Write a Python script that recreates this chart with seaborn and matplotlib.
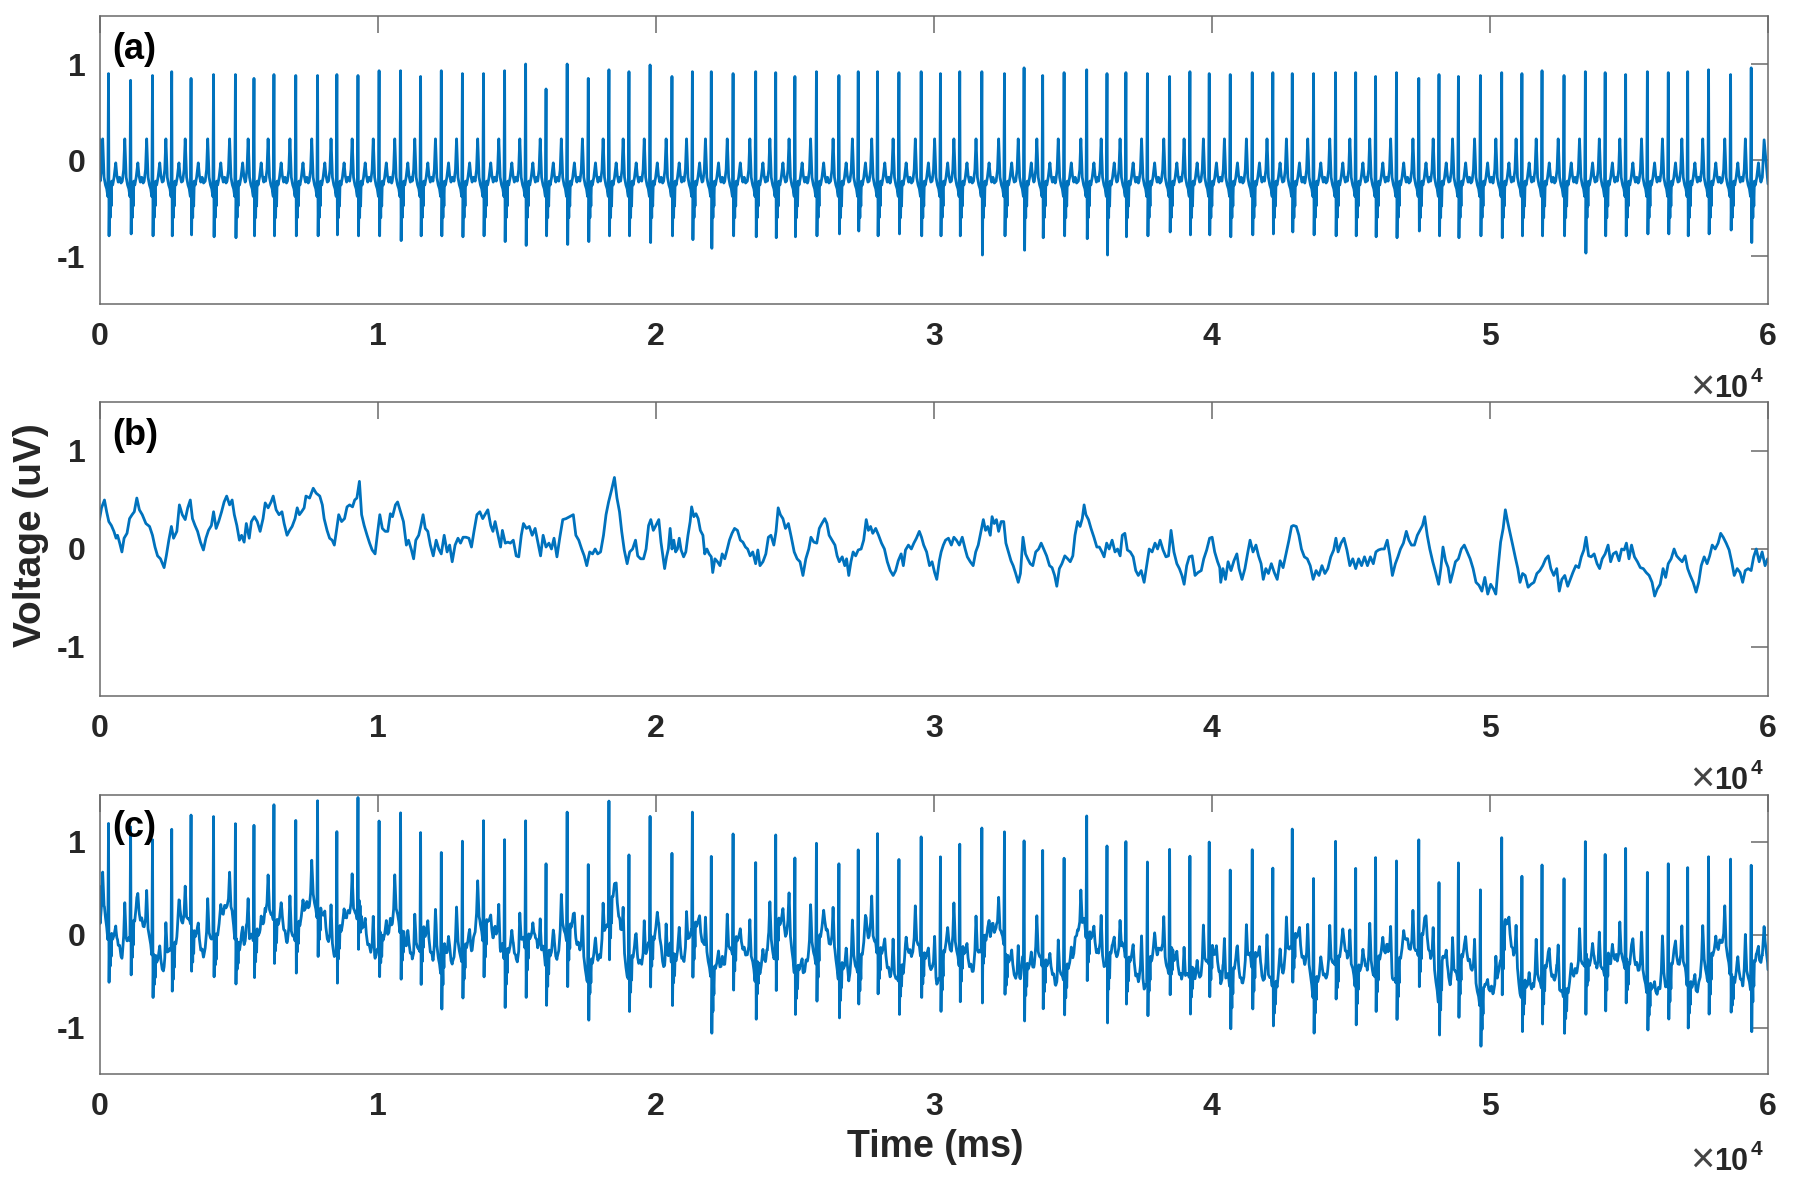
import numpy as np
import matplotlib
matplotlib.use("Agg")
import matplotlib.pyplot as plt
import seaborn as sns

# ---------------- data ----------------
# panel (a): R-peak times (ms), R-peak voltages, S-trough voltages
beat_t = [324, 1119, 1906, 2597, 3292, 4101, 4888, 5555, 6273, 7058,
          7842, 8536, 9295, 10054, 10827, 11547, 12291, 13050, 13809, 14568,
          15324, 16058, 16817, 17576, 18320, 19040, 19799,
          20586, 21320, 22000, 22784, 23597, 24317, 25007, 25781, 26590, 27284,
          27979, 28748, 29547, 30241, 30935, 31730, 32543, 33248, 33917, 34687,
          35500, 36230, 36910, 37683, 38482, 39212, 39906,
          40662, 41453, 42194, 42892, 43658, 44450, 45173, 45889, 46640, 47442,
          48169, 48867, 49658, 50424, 51151, 51874, 52665, 53432, 54144, 54881,
          55662, 56414, 57112, 57863, 58655, 59396]
r_amp = [0.90, 0.83, 0.88, 0.92, 0.85, 0.89, 0.89, 0.85, 0.89, 0.88,
         0.88, 0.89, 0.88, 0.93, 0.93, 0.87, 0.93, 0.90, 0.90, 0.93,
         1.00, 0.74, 1.00, 0.85, 0.94, 0.92, 0.99,
         0.87, 0.92, 0.92, 0.90, 0.92, 0.91, 0.87, 0.92, 0.88, 0.92,
         0.92, 0.91, 0.92, 0.90, 0.92, 0.92, 0.90, 0.96, 0.88, 0.91,
         0.94, 0.90, 0.91, 0.90, 0.87, 0.92, 0.90,
         0.89, 0.91, 0.91, 0.90, 0.90, 0.91, 0.91, 0.87, 0.91, 0.85,
         0.89, 0.87, 0.88, 0.91, 0.90, 0.93, 0.88, 0.92, 0.91, 0.89,
         0.92, 0.91, 0.92, 0.94, 0.89, 0.96]
s_amp = [-0.79, -0.77, -0.79, -0.79, -0.78, -0.80, -0.81, -0.79, -0.79, -0.79,
         -0.79, -0.78, -0.79, -0.79, -0.84, -0.79, -0.79, -0.80, -0.79, -0.85,
         -0.89, -0.79, -0.88, -0.85, -0.79, -0.79, -0.86,
         -0.79, -0.83, -0.92, -0.79, -0.80, -0.81, -0.80, -0.79, -0.77, -0.74,
         -0.79, -0.77, -0.79, -0.79, -0.79, -0.99, -0.79, -0.94, -0.81, -0.79,
         -0.82, -0.99, -0.80, -0.79, -0.75, -0.78, -0.78,
         -0.80, -0.78, -0.77, -0.75, -0.78, -0.79, -0.79, -0.80, -0.81, -0.74,
         -0.79, -0.81, -0.79, -0.81, -0.79, -0.79, -0.79, -0.97, -0.79, -0.79,
         -0.77, -0.77, -0.79, -0.77, -0.73, -0.86]
# typical beat shape around each R peak (offset ms, voltage)
pre_off = [-300, -250, -210, -160, -110, -65, -25]
pre_val = [-0.22, -0.10, 0.22, -0.18, -0.26, -0.30, -0.38]
s_off = 20
post_off = [40, 60, 75, 95, 115, 150, 200, 260, 300, 350, 400, 450]
post_val = [-0.30, -0.60, -0.28, -0.48, -0.22, -0.26, -0.18, -0.03, -0.16, -0.23, -0.18, -0.24]
a_head_t = [0]
a_head_v = [0.22]
a_tail_t = [59860, 60000]
a_tail_v = [0.21, -0.25]

# panel (b): noise trace, time (ms) and voltage
b_t_1 = [0, 73, 178, 257, 335, 427, 518, 597, 649, 727,
         806, 884, 989, 1081, 1172, 1251, 1342, 1434, 1538, 1669,
         1800, 1905, 1996, 2088, 2192, 2323, 2402, 2493, 2585, 2663,
         2781, 2873, 2977, 3082, 3173, 3265, 3343, 3435, 3527, 3631,
         3736, 3827, 3919, 4024, 4102, 4194, 4285, 4390, 4481, 4573,
         4678, 4769, 4848, 4939, 5031, 5109, 5201, 5279, 5384, 5462,
         5567, 5672, 5776, 5881, 5959, 6064, 6169, 6247, 6352, 6456,
         6561, 6640, 6744, 6836, 6927, 7032, 7110, 7189, 7267, 7359,
         7424, 7555, 7686, 7791, 7921, 8013, 8078, 8183, 8275, 8366,
         8445, 8523, 8602, 8706, 8811, 8902, 8994, 9099, 9177, 9256,
         9347, 9426, 9517, 9622, 9713, 9805, 9910, 9988, 10080, 10171,
         10276, 10367, 10459, 10537, 10642, 10720, 10825, 10930, 11035, 11113,
         11218, 11296, 11375, 11479, 11558, 11636, 11715, 11806, 11898, 12002,
         12107, 12199, 12290, 12395, 12500, 12591, 12683, 12787, 12892, 12983,
         13075, 13180, 13284, 13376, 13467, 13572, 13677, 13781, 13860, 13964,
         14069, 14148, 14226, 14331, 14422, 14488, 14592, 14684, 14775, 14880,
         14985, 15076, 15168, 15246, 15351, 15456, 15560, 15665, 15770, 15861,
         15953, 16057, 16162, 16253, 16345, 16450, 16554, 16659, 16777, 16907,
         17038, 17130, 17234, 17339, 17431, 17522, 17627, 17731, 17823, 17915,
         18019, 18124, 18215, 18307, 18412, 18517, 18608, 18700, 18778, 18870,
         18974, 19066, 19170, 19275, 19354, 19458, 19563, 19655, 19746, 19825,
         19916, 20008, 20112, 20191, 20322]
b_v_1 = [0.30, 0.42, 0.50, 0.38, 0.28, 0.24, 0.18, 0.11, 0.14, 0.06,
         -0.03, 0.11, 0.16, 0.31, 0.35, 0.38, 0.52, 0.40, 0.35, 0.26,
         0.23, 0.14, 0.02, -0.07, -0.10, -0.19, -0.07, 0.09, 0.23, 0.11,
         0.18, 0.45, 0.35, 0.30, 0.42, 0.50, 0.31, 0.24, 0.18, 0.07,
         -0.01, 0.11, 0.19, 0.24, 0.38, 0.21, 0.28, 0.38, 0.48, 0.54,
         0.45, 0.50, 0.35, 0.24, 0.09, 0.14, 0.07, 0.26, 0.11, 0.28,
         0.33, 0.28, 0.18, 0.31, 0.47, 0.42, 0.48, 0.54, 0.40, 0.35,
         0.38, 0.26, 0.14, 0.19, 0.23, 0.31, 0.42, 0.35, 0.38, 0.42,
         0.54, 0.52, 0.62, 0.57, 0.54, 0.45, 0.31, 0.19, 0.11, 0.09,
         0.04, 0.19, 0.35, 0.28, 0.31, 0.43, 0.45, 0.43, 0.50, 0.52,
         0.69, 0.35, 0.24, 0.14, 0.06, -0.01, -0.05, 0.14, 0.35, 0.21,
         0.18, 0.18, 0.36, 0.33, 0.45, 0.48, 0.38, 0.28, 0.04, 0.09,
         -0.01, -0.10, 0.09, 0.14, 0.24, 0.35, 0.21, 0.18, 0.04, -0.07,
         0.09, 0.00, -0.05, 0.14, -0.03, 0.04, -0.13, 0.04, 0.11, 0.06,
         0.12, 0.12, 0.11, 0.02, 0.18, 0.35, 0.38, 0.31, 0.35, 0.40,
         0.24, 0.18, 0.28, 0.14, 0.02, 0.19, 0.06, 0.07, 0.06, 0.09,
         -0.07, -0.08, 0.14, 0.26, 0.21, 0.23, 0.14, 0.21, 0.06, -0.07,
         0.14, 0.02, 0.06, 0.00, 0.11, -0.08, 0.12, 0.30, 0.31, 0.33,
         0.35, 0.14, 0.09, 0.00, -0.07, -0.17, -0.03, -0.05, 0.00, -0.05,
         -0.03, 0.14, 0.35, 0.48, 0.60, 0.73, 0.52, 0.38, 0.18, -0.01,
         -0.15, -0.03, 0.00, 0.09, -0.07, -0.10, -0.10, 0.00, 0.24, 0.30,
         0.19, 0.24, 0.30, 0.07, -0.20]
b_t_2 = [20391, 20456, 20521, 20587, 20652, 20718, 20783, 20848, 20914, 21005,
         21084, 21162, 21241, 21293, 21372, 21450, 21529, 21607, 21699, 21764,
         21843, 21921, 22000, 22052, 22130, 22222, 22313, 22392, 22483, 22575,
         22653, 22745, 22837, 22941, 23046, 23137, 23229, 23307, 23399, 23491,
         23595, 23674, 23752, 23857, 23962, 24053, 24145, 24249, 24328, 24406,
         24485, 24576, 24668, 24773, 24877, 24982, 25087, 25191, 25296, 25400,
         25505, 25584, 25688, 25793, 25884, 25976, 26081, 26159, 26238, 26342,
         26447, 26525, 26604, 26708, 26800, 26865, 26944, 27022, 27101, 27192,
         27284, 27388, 27480, 27572, 27650, 27729, 27807, 27912, 28016, 28121,
         28226, 28330, 28435, 28540, 28631, 28723, 28827, 28906, 28984, 29089,
         29194, 29285, 29377, 29481, 29560, 29638, 29743, 29848, 29939, 30031,
         30109, 30201, 30266, 30345, 30423, 30528, 30633, 30724, 30816, 30920,
         31025, 31130, 31208, 31313, 31417, 31509, 31600, 31705, 31783, 31862,
         31940, 32032, 32097, 32176, 32254, 32333, 32424, 32516, 32594, 32686,
         32777, 32856, 32947, 33039, 33117, 33209, 33300, 33379, 33470, 33562,
         33667, 33771, 33863, 33954, 34059, 34164, 34255, 34347, 34425, 34517,
         34608, 34713, 34817, 34909, 35001, 35079, 35171, 35262, 35341, 35407,
         35472, 35564, 35655, 35760, 35865, 35956, 36048, 36126, 36218, 36309,
         36414, 36518, 36610, 36702, 36780, 36872, 36963, 37068, 37172, 37264,
         37356, 37460, 37565, 37656, 37748, 37853, 37957, 38049, 38140, 38246,
         38350, 38441, 38533, 38637, 38742, 38834, 38925, 39004, 39096, 39188,
         39291, 39396, 39501, 39619, 39710, 39815, 39920, 40011, 40103, 40207,
         40285]
b_v_2 = [-0.08, 0.00, 0.21, 0.00, 0.09, -0.03, 0.00, 0.11, -0.01, -0.08,
         -0.03, 0.14, 0.28, 0.43, 0.33, 0.36, 0.31, 0.19, 0.14, -0.05,
         0.00, -0.05, -0.08, -0.24, -0.10, -0.13, -0.17, -0.05, -0.10, 0.00,
         0.09, 0.16, 0.21, 0.19, 0.09, 0.07, 0.02, 0.00, -0.07, -0.03,
         -0.15, -0.01, -0.17, -0.13, -0.05, 0.12, 0.14, 0.04, 0.18, 0.42,
         0.35, 0.31, 0.21, 0.26, 0.12, -0.03, -0.10, -0.13, -0.27, -0.10,
         0.00, 0.12, 0.07, 0.06, 0.21, 0.26, 0.31, 0.26, 0.14, 0.09,
         0.04, -0.07, -0.13, -0.08, -0.17, -0.10, -0.27, -0.13, -0.03, -0.07,
         -0.01, 0.00, 0.09, 0.30, 0.19, 0.23, 0.16, 0.21, 0.14, 0.06,
         0.00, -0.13, -0.22, -0.27, -0.22, -0.12, -0.05, -0.17, -0.01, 0.04,
         0.00, 0.06, 0.11, 0.18, 0.12, 0.04, -0.03, -0.17, -0.13, -0.24,
         -0.31, -0.12, -0.03, 0.04, 0.09, 0.11, 0.04, 0.12, 0.09, 0.04,
         0.12, 0.00, -0.08, -0.13, -0.17, -0.03, 0.04, 0.19, 0.30, 0.19,
         0.23, 0.14, 0.33, 0.26, 0.30, 0.18, 0.28, 0.28, 0.06, -0.03,
         -0.12, -0.17, -0.25, -0.34, -0.25, 0.12, -0.05, -0.10, -0.15, -0.17,
         -0.03, 0.00, 0.06, 0.00, -0.07, -0.17, -0.19, -0.27, -0.38, -0.20,
         -0.15, -0.07, -0.10, -0.13, -0.07, 0.14, 0.28, 0.23, 0.31, 0.45,
         0.35, 0.30, 0.21, 0.12, 0.02, 0.02, -0.03, -0.08, 0.06, 0.00,
         0.09, -0.03, 0.00, -0.07, 0.14, 0.16, -0.01, -0.03, -0.08, -0.22,
         -0.27, -0.22, -0.34, -0.17, 0.00, -0.03, 0.06, 0.00, 0.09, -0.01,
         -0.08, -0.07, 0.19, -0.03, -0.15, -0.20, -0.27, -0.36, -0.17, -0.08,
         -0.07, -0.27, -0.24, -0.22, -0.10, -0.01, 0.11, 0.12, -0.03, -0.13,
         -0.19]
b_t_3 = [40320, 40399, 40491, 40584, 40689, 40795, 40900, 40979, 41085, 41190,
         41283, 41375, 41481, 41586, 41679, 41771, 41850, 41942, 42035, 42140,
         42246, 42351, 42457, 42562, 42668, 42773, 42866, 42932, 43037, 43130,
         43222, 43327, 43433, 43538, 43644, 43749, 43855, 43960, 44066, 44171,
         44277, 44382, 44462, 44541, 44646, 44752, 44857, 44963, 45068, 45174,
         45279, 45385, 45490, 45596, 45701, 45807, 45899, 45992, 46097, 46202,
         46308, 46401, 46493, 46599, 46691, 46784, 46889, 46994, 47086, 47179,
         47284, 47390, 47482, 47575, 47654, 47746, 47838, 47944, 48049, 48155,
         48234, 48313, 48405, 48498, 48577, 48669, 48761, 48867, 48972, 49078,
         49183, 49289, 49395, 49500, 49606, 49711, 49817, 49922, 50028, 50133,
         50212, 50291, 50384, 50476, 50555, 50635, 50713, 50819, 50924, 51004,
         51083, 51175, 51268, 51373, 51478, 51584, 51689, 51795, 51900, 52006,
         52099, 52191, 52297, 52402, 52494, 52587, 52692, 52798, 52890, 52983,
         53088, 53194, 53286, 53378, 53457, 53550, 53642, 53748, 53853, 53945,
         54038, 54143, 54249, 54341, 54433, 54539, 54644, 54737, 54829, 54908,
         55001, 55093, 55198, 55304, 55409, 55515, 55620, 55726, 55831, 55924,
         56016, 56122, 56227, 56319, 56412, 56517, 56623, 56715, 56808, 56913,
         57019, 57111, 57203, 57309, 57414, 57507, 57599, 57705, 57810, 57902,
         57995, 58100, 58206, 58298, 58390, 58496, 58602, 58694, 58786, 58892,
         58997, 59089, 59182, 59287, 59393, 59485, 59578, 59683, 59789, 59894,
         59986, 60000]
b_v_3 = [-0.34, -0.20, -0.31, -0.13, -0.22, -0.12, -0.05, -0.20, -0.31, -0.20,
         -0.05, 0.09, -0.03, 0.04, -0.07, -0.15, -0.31, -0.20, -0.25, -0.15,
         -0.24, -0.31, -0.12, -0.19, -0.05, 0.09, 0.23, 0.24, 0.23, 0.14,
         0.00, -0.08, -0.10, -0.17, -0.31, -0.22, -0.27, -0.17, -0.25, -0.20,
         -0.08, -0.01, 0.11, -0.03, 0.06, 0.11, -0.01, -0.17, -0.10, -0.20,
         -0.10, -0.17, -0.08, -0.17, -0.08, -0.15, -0.03, -0.01, 0.00, 0.00,
         0.09, -0.07, -0.27, -0.15, -0.08, 0.00, 0.06, 0.18, 0.09, 0.04,
         0.04, 0.14, 0.19, 0.24, 0.33, 0.14, 0.00, -0.13, -0.24, -0.36,
         -0.20, 0.02, -0.12, -0.19, -0.34, -0.24, -0.13, -0.10, 0.00, 0.04,
         -0.03, -0.10, -0.20, -0.34, -0.37, -0.43, -0.29, -0.46, -0.36, -0.41,
         -0.46, -0.20, 0.07, 0.21, 0.40, 0.28, 0.18, 0.04, -0.10, -0.20,
         -0.34, -0.25, -0.27, -0.39, -0.36, -0.34, -0.25, -0.22, -0.17, -0.10,
         -0.07, -0.20, -0.27, -0.20, -0.43, -0.31, -0.27, -0.38, -0.31, -0.24,
         -0.17, -0.19, -0.08, -0.01, 0.12, -0.07, -0.08, -0.05, -0.15, -0.20,
         -0.10, -0.05, 0.04, -0.13, -0.05, -0.03, -0.12, 0.00, -0.01, 0.06,
         -0.10, 0.04, -0.08, -0.13, -0.19, -0.20, -0.24, -0.27, -0.34, -0.48,
         -0.41, -0.36, -0.20, -0.29, -0.15, -0.10, 0.00, -0.07, -0.10, -0.13,
         -0.07, -0.20, -0.27, -0.34, -0.44, -0.34, -0.17, -0.08, -0.15, -0.07,
         0.04, 0.00, 0.06, 0.16, 0.12, 0.06, -0.01, -0.13, -0.27, -0.20,
         -0.24, -0.34, -0.22, -0.20, -0.22, -0.08, 0.00, -0.13, -0.03, -0.17,
         -0.10, -0.13]

x_ticks = [0, 10000, 20000, 30000, 40000, 50000, 60000]
x_ticklabels = ["0", "1", "2", "3", "4", "5", "6"]
y_ticks = [-1, 0, 1]
y_ticklabels = ["-1", "0", "1"]
panel_labels = ["(a)", "(b)", "(c)"]

# ---------------- build the traces ----------------
ta, va = list(a_head_t), list(a_head_v)
for i, (t0, r, s) in enumerate(zip(beat_t, r_amp, s_amp)):
    for o, v in zip(pre_off, pre_val):
        if t0 + o > ta[-1] + 5:
            ta.append(t0 + o); va.append(v)
    ta += [t0, t0 + s_off]; va += [r, s]
    limit = (beat_t[i + 1] - 310) if i + 1 < len(beat_t) else (a_tail_t[0] - 30)
    for o, v in zip(post_off, post_val):
        if t0 + o < limit:
            ta.append(t0 + o); va.append(v)
ta += a_tail_t; va += a_tail_v
ta = np.array(ta, float); va = np.array(va, float)

tb = np.array(b_t_1 + b_t_2 + b_t_3, float)
vb = np.array(b_v_1 + b_v_2 + b_v_3, float)

# panel (c): ECG of (a) with the noise of (b) added
tc = np.union1d(ta, tb)
vc = np.interp(tc, ta, va) + np.interp(tc, tb, vb)

series = [(ta, va), (tb, vb), (tc, vc)]

# ---------------- figure ----------------
sns.set_theme(style="white")
plt.rcParams["font.family"] = ["Liberation Sans", "DejaVu Sans"]
plt.rcParams["font.weight"] = "bold"
plt.rcParams["axes.unicode_minus"] = False

W, H = 1794, 1190
fig = plt.figure(figsize=(W / 100, H / 100), dpi=100)
boxes = [(99.5, 16, 1768, 304), (99.5, 402, 1768, 696), (99.5, 795, 1768, 1074)]
line_color = "#0072BD"
spine_color = "#6a6a6a"
text_color = "#262626"
PX = 0.72  # points per pixel at dpi 100

for (x0, y0, x1, y1), (t, v), lab in zip(boxes, series, panel_labels):
    ax = fig.add_axes([x0 / W, 1 - y1 / H, (x1 - x0) / W, (y1 - y0) / H])
    sns.lineplot(x=t, y=v, ax=ax, color=line_color, linewidth=2.0,
                 estimator=None, sort=False)
    ax.set_xlim(0, 60000)
    ax.set_ylim(-1.5, 1.5)
    ax.set_xticks(x_ticks)
    ax.set_xticklabels(x_ticklabels)
    ax.set_yticks(y_ticks)
    ax.set_yticklabels(y_ticklabels)
    ax.set_xlabel("")
    ax.set_ylabel("")
    for sp in ax.spines.values():
        sp.set_visible(True)
        sp.set_color(spine_color)
        sp.set_linewidth(1.1)
    ax.tick_params(axis="both", direction="in", length=12, width=1.1,
                   color=spine_color, top=True, right=True,
                   labelsize=23, labelcolor=text_color)
    ax.tick_params(axis="x", pad=13)
    ax.tick_params(axis="y", pad=10)
    for tl in ax.get_xticklabels() + ax.get_yticklabels():
        tl.set_fontweight("bold")
    ax.text(0.0075, 0.885, lab, transform=ax.transAxes, fontsize=26,
            fontweight="bold", ha="left", va="center", color="black")
    # x10^4 exponent label below the right end of the x axis
    base_dy = -(93 if lab != "(c)" else 96) * PX
    ax.annotate("10", xy=(1, 0), xycoords="axes fraction",
                xytext=(-54 * PX, base_dy), textcoords="offset points",
                ha="left", va="baseline", fontsize=22, fontweight="bold",
                color=text_color)
    ax.annotate("4", xy=(1, 0), xycoords="axes fraction",
                xytext=(-17 * PX, base_dy + 15 * PX), textcoords="offset points",
                ha="left", va="baseline", fontsize=15, fontweight="bold",
                color=text_color)
    ax.annotate("\u00d7", xy=(1, 0), xycoords="axes fraction",
                xytext=(-66 * PX, base_dy + 8 * PX), textcoords="offset points",
                ha="center", va="center", fontsize=30, fontweight="normal",
                color="#444444")

fig.text(31 / W, 1 - 535 / H, "Voltage (uV)", rotation=90, ha="center",
         va="center", fontsize=28, fontweight="bold", color=text_color)
fig.text(935 / W, 1 - 1147 / H, "Time (ms)", ha="center", va="center",
         fontsize=27, fontweight="bold", color=text_color)

fig.savefig("out.png", dpi=100, facecolor="white")
